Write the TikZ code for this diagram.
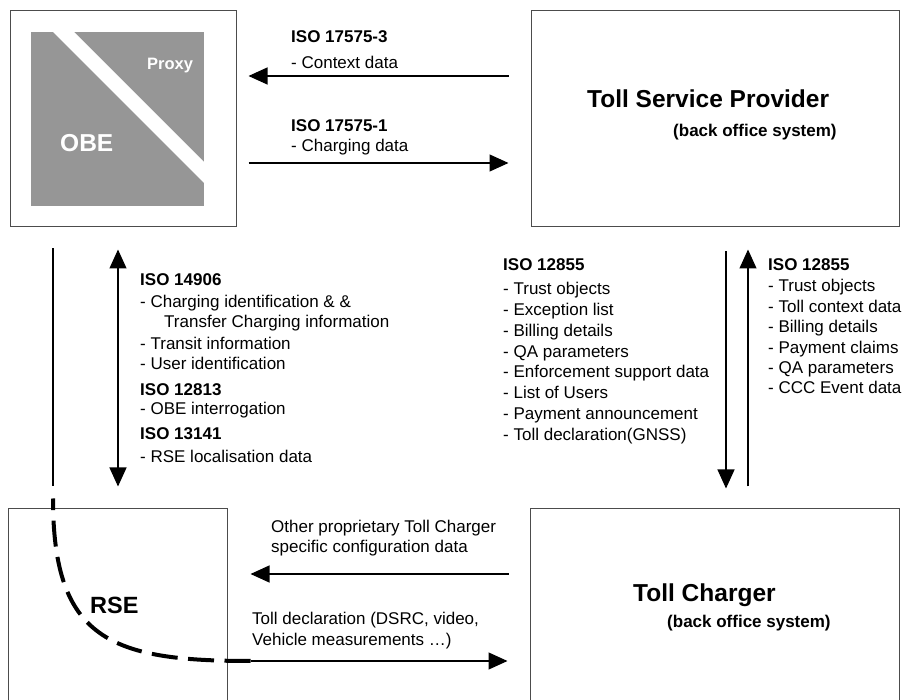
\documentclass[tikz,border=0pt]{standalone}
\usepackage{fontspec}
\setmainfont{Liberation Sans}
\usetikzlibrary{arrows.meta}
\definecolor{boxline}{gray}{0.3}
\definecolor{obegray}{gray}{0.59}

\begin{document}
\begin{tikzpicture}[x=1pt, y=-1pt,
        box/.style={draw=boxline, line width=1pt, inner sep=0pt},
        lbl/.style={anchor=base west, inner sep=0pt, font=\fontsize{17}{20}\selectfont},
        hdr/.style={lbl, font=\fontsize{17}{20}\selectfont\bfseries},
        title/.style={anchor=base west, inner sep=0pt, font=\fontsize{24.5}{28}\selectfont\bfseries},
        arr/.style={line width=1.1pt, -{Triangle[length=19pt, width=17pt]}},
        arrs/.style={line width=1.1pt, {Triangle[length=19pt, width=17pt]}-{Triangle[length=19pt, width=17pt]}},
        rsedash/.style={line width=4pt, dash pattern=on 26pt off 10.5pt}]
        \useasboundingbox (0,0) rectangle (906,700);
        \clip (0,0) rectangle (906,700);

        % Блоки
        \node[box, minimum width=226, minimum height=216] (obe) at (123,119) {};
        \node[box, minimum width=368, minimum height=216] (tsp) at (715,119) {};
        \node[box, minimum width=219, minimum height=230] (rse) at (117.5,624) {};
        \node[box, minimum width=369, minimum height=230] (tc)  at (714.5,624) {};

        % OBE / Proxy
        \fill[obegray] (31,32) rectangle (204,206);
        \fill[white] (53,32) -- (74,32) -- (204,162) -- (204,183) -- cycle;
        \node[title, text=white] (obetxt) at (60,152) {OBE};
        \node[hdr, text=white, font=\fontsize{16.5}{20}\selectfont\bfseries] (proxy) at (147,70) {Proxy};

        % Названия блоков
        \node[title] (tsptxt) at (587,108) {Toll Service Provider};
        \node[hdr]   (tspsub) at (673,137) {(back office system)};
        \node[title] (tctxt)  at (633,602) {Toll Charger};
        \node[hdr]   (tcsub)  at (667,628) {(back office system)};
        \node[title, font=\fontsize{23.5}{28}\selectfont\bfseries] (rsetxt) at (90,614) {RSE};

        % Стрелки OBE -- TSP
        \draw[arr] ([shift={(-22,-43)}]tsp.west) -- ([shift={(12,-43)}]obe.east);
        \draw[arr] ([shift={(12,44)}]obe.east) -- ([shift={(-22,44)}]tsp.west);
        \node[hdr] at (291,43)  {ISO 17575-3};
        \node[lbl] at (291,69)  {- Context data};
        \node[hdr] at (291,132) {ISO 17575-1};
        \node[lbl] at (291,152) {- Charging data};

        % OBE -- RSE
        \draw[line width=1.1pt] ([shift={(-70,21)}]obe.south) -- ([shift={(-64.5,-22)}]rse.north);
        \draw[rsedash] ([shift={(23,37)}]rse.east) .. controls +(-140,0) and +(0,141) .. ([shift={(-64.5,-10)}]rse.north);
        \draw[arrs] ([shift={(-5,22)}]obe.south) -- ([shift={(0.5,-22)}]rse.north);
        \node[hdr] at (140,286) {ISO 14906};
        \foreach \y/\t in {308/- Charging identification \& \&, 350/- Transit information, 370/- User identification}
            \node[lbl] at (140,\y) {\t};
        \node[lbl] at (164,328) {Transfer Charging information};
        \node[hdr] at (140,396) {ISO 12813};
        \node[lbl] at (140,415) {- OBE interrogation};
        \node[hdr] at (140,440) {ISO 13141};
        \node[lbl] at (140,463) {- RSE localisation data};

        % TSP -- TC
        \draw[arr] ([shift={(11,24)}]tsp.south) -- ([shift={(11.5,-20)}]tc.north);
        \draw[arr] ([shift={(33.5,-22)}]tc.north) -- ([shift={(33,22)}]tsp.south);
        \node[hdr] at (503,271) {ISO 12855};
        \foreach \t [count=\i] in {Trust objects, Exception list, Billing details, QA parameters,
                Enforcement support data, List of Users, Payment announcement, Toll declaration(GNSS)}
            \node[lbl] at (503,{274+20.8*\i}) {- \t};
        \node[hdr] at (768,271) {ISO 12855};
        \foreach \t [count=\i] in {Trust objects, Toll context data, Billing details, Payment claims,
                QA parameters, CCC Event data}
            \node[lbl] at (768,{271.6+20.4*\i}) {- \t};

        % RSE -- TC
        \draw[arr] ([shift={(-21,-50)}]tc.west) -- ([shift={(23,-50)}]rse.east);
        \draw[arr] ([shift={(23,37)}]rse.east) -- ([shift={(-22,37)}]tc.west);
        \node[lbl] at (271,533) {Other proprietary Toll Charger};
        \node[lbl] at (271,553) {specific configuration data};
        \node[lbl] at (252,625) {Toll declaration (DSRC, video,};
        \node[lbl] at (252,645) {Vehicle measurements …)};
    \end{tikzpicture}
\end{document}
